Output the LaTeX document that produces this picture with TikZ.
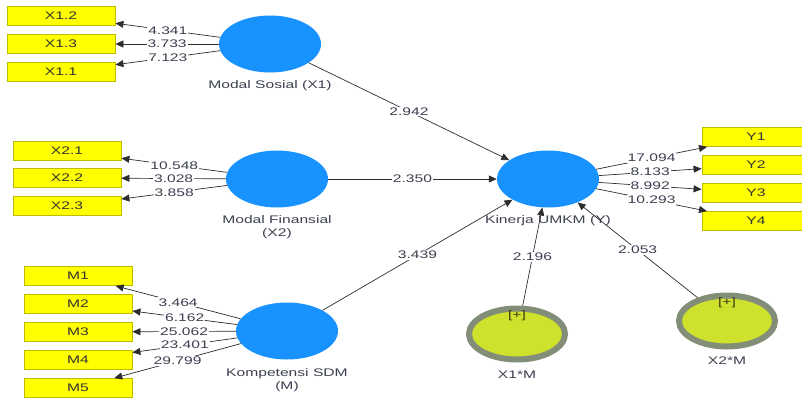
\documentclass[tikz,border=0pt]{standalone}
\usepackage{fontspec}
\usepackage{tikz}
\usetikzlibrary{shapes.geometric, positioning, arrows.meta}
\newfontfamily\plsfont[FakeStretch=1.42]{Liberation Sans}
\definecolor{lvblue}{RGB}{23,146,255}
\definecolor{indyellow}{RGB}{255,255,0}
\definecolor{indborder}{RGB}{190,190,0}
\definecolor{modfill}{RGB}{205,225,45}
\definecolor{modborder}{RGB}{130,142,120}
\definecolor{plstext}{RGB}{60,64,80}
\definecolor{plsline}{RGB}{45,45,45}
\definecolor{plustext}{RGB}{70,60,20}

\begin{document}
\begin{tikzpicture}[x=1pt, y=-1pt,
    font=\plsfont\fontsize{11}{12.5}\selectfont, text=plstext,
    >={Triangle[length=8pt,width=7pt]},
    latent/.style={ellipse, fill=lvblue, minimum width=102pt, minimum height=57pt, inner sep=0pt},
    moderator/.style={ellipse, fill=modfill, draw=modborder, line width=6pt, minimum width=96pt, minimum height=51pt, inner sep=0pt},
    indicator/.style={rectangle, fill=indyellow, draw=indborder, line width=0.8pt, minimum width=108pt, minimum height=19pt, inner sep=0pt, text=black!80},
    lvname/.style={align=center, inner sep=0pt},
    weight/.style={fill=white, inner sep=1pt},
    link/.style={->, draw=plsline, line width=0.7pt}]
    \clip (0,0) rectangle (802,397);

    \node [latent] (ms) at (270,44) {};
    \node [latent] (mf) at (277,179) {};
    \node [latent] (ks) at (287,331) {};
    \node [latent] (ky) at (548,179) {};
    \node [moderator] (x1m) at (517,334) {};
    \node [moderator] (x2m) at (727,321) {};
    \node [text=plustext] (x1mplus) at ([yshift=-10pt]x1m.north) {[+]};
    \node [text=plustext] (x2mplus) at ([yshift=-10pt]x2m.north) {[+]};

    \node [lvname, below=8pt of ms] (msname) {Modal Sosial (X1)};
    \node [lvname, below=8pt of mf] (mfname) {Modal Finansial\\(X2)};
    \node [lvname, below=9pt of ks] (ksname) {Kompetensi SDM\\(M)};
    \node [lvname, below=8pt of ky] (kyname) {Kinerja UMKM (Y)};
    \node [lvname, below=8pt of x1m] (x1mname) {X1*M};
    \node [lvname, below=7pt of x2m] (x2mname) {X2*M};

    \node [indicator] (x12) at (61,16) {X1.2};
    \node [indicator] (x13) at (61,44) {X1.3};
    \node [indicator] (x11) at (61,72) {X1.1};
    \node [indicator] (x21) at (67,151) {X2.1};
    \node [indicator] (x22) at (67,178) {X2.2};
    \node [indicator] (x23) at (67,206) {X2.3};
    \node [indicator] (m1) at (78,276) {M1};
    \node [indicator] (m2) at (78,304) {M2};
    \node [indicator] (m3) at (78,332) {M3};
    \node [indicator] (m4) at (78,360) {M4};
    \node [indicator] (m5) at (78,388) {M5};
    \node [indicator] (y1) at (756,137) {Y1};
    \node [indicator] (y2) at (756,165) {Y2};
    \node [indicator] (y3) at (756,193) {Y3};
    \node [indicator] (y4) at (756,221) {Y4};

    \draw [link] (ms) -- node [weight] {4.341} (x12);
    \draw [link] (ms) -- node [weight] {3.733} (x13);
    \draw [link] (ms) -- node [weight] {7.123} (x11);
    \draw [link] (mf) -- node [weight] {10.548} (x21);
    \draw [link] (mf) -- node [weight] {3.028} (x22);
    \draw [link] (mf) -- node [weight] {3.858} (x23);
    \draw [link] (ks) -- node [weight] {3.464} (m1);
    \draw [link] (ks) -- node [weight] {6.162} (m2);
    \draw [link] (ks) -- node [weight] {25.062} (m3);
    \draw [link] (ks) -- node [weight] {23.401} (m4);
    \draw [link] (ks) -- node [weight] {29.799} (m5);
    \draw [link] (ky) -- node [weight] {17.094} (y1);
    \draw [link] (ky) -- node [weight] {8.133} (y2);
    \draw [link] (ky) -- node [weight] {8.992} (y3);
    \draw [link] (ky) -- node [weight] {10.293} (y4);

    \draw [link] (ms) -- node [weight] {2.942} (ky);
    \draw [link] (mf) -- node [weight] {2.350} (ky);
    \draw [link] (ks) -- node [weight] {3.439} (ky);
    \draw [link] (x1m) -- node [weight] {2.196} (ky);
    \draw [link] (x2m) -- node [weight] {2.053} (ky);
\end{tikzpicture}
\end{document}
